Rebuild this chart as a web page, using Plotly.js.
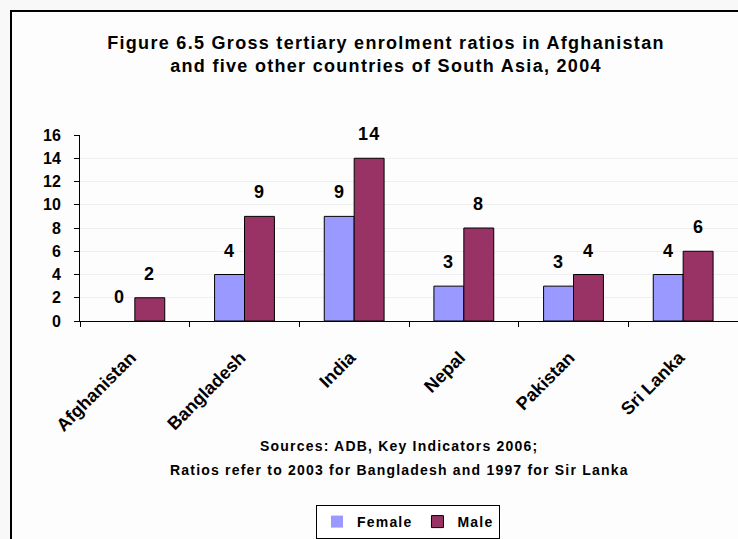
<!DOCTYPE html>
<html>
<head>
<meta charset="utf-8">
<script src="https://cdn.plot.ly/plotly-3.0.1.min.js"></script>
<style>
  html, body { margin:0; padding:0; width:738px; height:539px; overflow:hidden; background:#f8f8f8; }
  #frame { position:absolute; left:10px; top:10px; width:800px; height:600px; border:2px solid #000; background:#fdfdfd; }
  #chart { position:absolute; left:0; top:0; width:738px; height:539px; }
  .gtitle { letter-spacing:1.3px; }
  .annotation-text { letter-spacing:1.2px; }
  .legendtext { letter-spacing:1.2px; }
</style>
</head>
<body>
<div id="frame"></div>
<div id="chart"></div>
<script>
const categories = ['Afghanistan', 'Bangladesh', 'India', 'Nepal', 'Pakistan', 'Sri Lanka'];
const female = [0, 4, 9, 3, 3, 4];
const male = [2, 9, 14, 8, 4, 6];
const seriesNames = ['Female', 'Male'];
const yTickVals = [0, 2, 4, 6, 8, 10, 12, 14, 16];
const titleLines = ['Figure 6.5 Gross tertiary enrolment ratios in Afghanistan', 'and five other countries of South Asia, 2004'];
const sourceLines = ['Sources: ADB, Key Indicators 2006;', 'Ratios refer to 2003 for Bangladesh and 1997 for Sir Lanka'];

const FONT = 'Liberation Sans, Arial, Helvetica, sans-serif';

// a zero-height bar shows no outline in the reference
const outlineFor = vals => vals.map(v => (v === 0 ? 0 : 1));

const traces = [
  { type:'bar', name:seriesNames[0], x:categories, y:female,
    marker:{ color:'#9999FF', line:{ color:'#000000', width:outlineFor(female) } }, hoverinfo:'skip' },
  { type:'bar', name:seriesNames[1], x:categories, y:male,
    marker:{ color:'#993366', line:{ color:'#000000', width:outlineFor(male) } }, hoverinfo:'skip' }
];

const annotations = [];
[female, male].forEach((vals, s) => {
  vals.forEach((v, i) => {
    annotations.push({ xref:'x', yref:'y', x:categories[i], y:v, text:'<b>' + v + '</b>',
      showarrow:false, xanchor:'center', yanchor:'middle', xshift: s === 0 ? -15 : 15, yshift:24,
      font:{ family:FONT, size:18, color:'#000' } });
  });
});
sourceLines.forEach((t, k) => {
  annotations.push({ xref:'paper', yref:'paper', x:(399-80)/658, y:(322-448-24*k)/187, text:'<b>' + t + '</b>',
    showarrow:false, xanchor:'center', yanchor:'middle', font:{ family:FONT, size:14, color:'#000' } });
});

const layout = {
  width:738, height:539,
  margin:{ l:80, r:0, t:135, b:217, pad:0 },
  paper_bgcolor:'rgba(0,0,0,0)', plot_bgcolor:'rgba(0,0,0,0)',
  font:{ family:FONT, color:'#000' },
  title:{ text:'<b>' + titleLines.join('</b><br><b>') + '</b>', x:386/738, xanchor:'center', xref:'container',
    y:1 - 49/539, yanchor:'top', yref:'container', font:{ family:FONT, size:18, color:'#000' } },
  barmode:'group', bargap:0.4545, bargroupgap:0,
  showlegend:true,
  legend:{ orientation:'h', x:(408-80)/658, xanchor:'center', y:(322-507)/187, yanchor:'top',
    bordercolor:'#000', borderwidth:1, bgcolor:'#ffffff', font:{ family:FONT, size:14, color:'#000', weight:'bold' },
    itemwidth:30, traceorder:'normal' },
  xaxis:{ type:'category', range:[-0.5, 5.5], showline:true, linecolor:'#000', linewidth:1,
    ticks:'outside', tickson:'boundaries', ticklen:5, tickcolor:'#000', tickwidth:1,
    showgrid:false, zeroline:false, tickangle:-45, ticklabelstandoff:18, ticklabelshift:-4,
    tickfont:{ family:FONT, size:18, color:'#000', weight:'bold' }, fixedrange:true },
  yaxis:{ range:[0, 16], tickvals:yTickVals, showline:true, linecolor:'#000', linewidth:1,
    ticks:'outside', ticklen:5, tickcolor:'#000', tickwidth:1, ticklabelstandoff:10,
    showgrid:true, gridcolor:'#efefef', gridwidth:1, zeroline:false,
    tickfont:{ family:FONT, size:16, color:'#000', weight:'bold' }, fixedrange:true },
  annotations:annotations
};

Plotly.newPlot('chart', traces, layout, { displayModeBar:false, staticPlot:true });
</script>
</body>
</html>
